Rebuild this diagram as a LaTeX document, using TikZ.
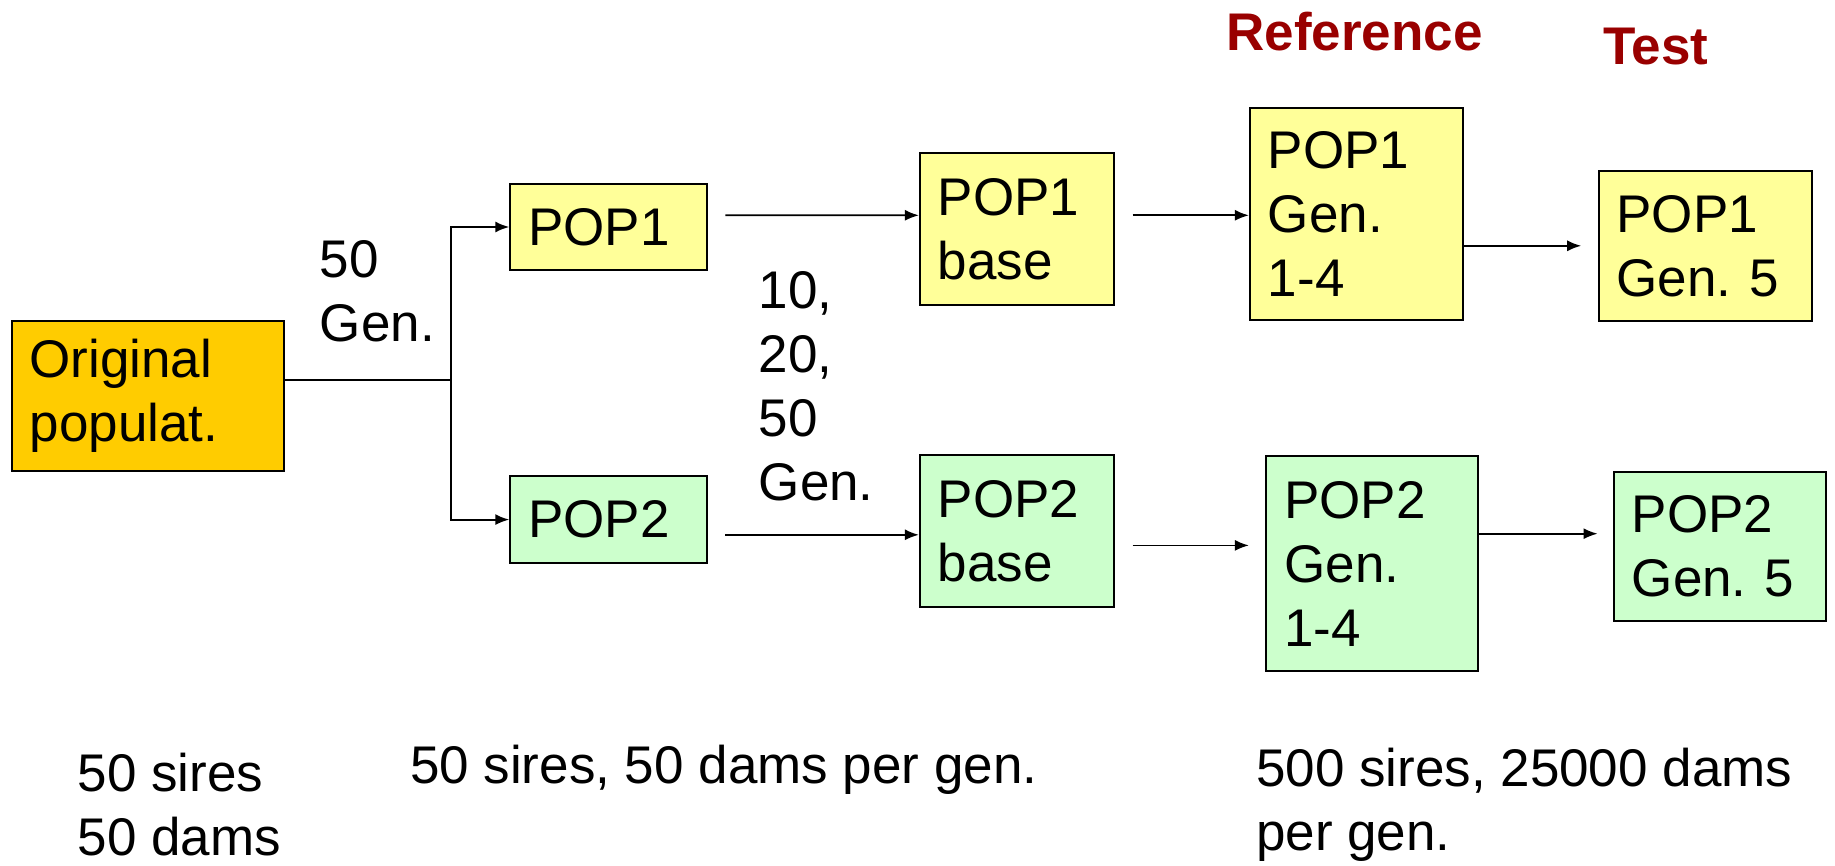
\documentclass[tikz,border=0pt]{standalone}
\usepackage{fontspec}
\setmainfont{Liberation Sans}
\usepackage{xcolor}
\usetikzlibrary{arrows.meta,positioning,calc}
\definecolor{lemon}{RGB}{255,255,153}
\definecolor{mint}{RGB}{204,255,204}
\definecolor{amber}{RGB}{255,204,0}
\definecolor{maroon}{RGB}{153,0,0}
\frenchspacing

\begin{document}
\begin{tikzpicture}[x=0.5pt, y=-0.5pt,
  txt/.style={font=\fontsize{26.5}{32}\selectfont, inner sep=0pt, align=left, anchor=west},
  box/.style 2 args={draw, line width=1pt, font=\fontsize{26.5}{32}\selectfont, align=left,
    inner xsep=9pt, inner ysep=3pt, text width=#1, minimum height=#2},
  arr/.style={-{Latex[length=7pt,width=5.5pt]}, line width=0.9pt}]
\useasboundingbox (0,0) rectangle (1835,866);

% Boxes
\node[box={118.4pt}{74.9pt}, fill=amber] (orig) at (148,395.6) {Original\\populat.};
\node[box={80.3pt}{43.3pt}, fill=lemon] (pop1) at (608.6,227) {POP1};
\node[box={80.3pt}{43.3pt}, fill=mint] (pop2) at (608.6,519.6) {POP2};
\node[box={79.1pt}{76pt}, fill=lemon] (base1) at (1017,229.4) {POP1\\base};
\node[box={79.1pt}{76pt}, fill=mint] (base2) at (1017,531.3) {POP2\\base};
\node[box={88.5pt}{105.9pt}, fill=lemon] (gen1) at (1356.4,213.6) {POP1\\Gen.\\1-4};
\node[box={87.9pt}{107.1pt}, fill=mint] (gen2) at (1372.2,563.5) {POP2\\Gen.\\1-4};
\node[box={88.5pt}{74.9pt}, fill=lemon] (test1) at (1705.1,245.8) {POP1\\Gen.~5};
\node[box={88pt}{74.9pt}, fill=mint] (test2) at (1719.8,546.5) {POP2\\Gen.~5};

% Split into two lines
\coordinate (split) at (450.6,380.3);
\draw[line width=0.9pt] (orig.east |- split) -- (split);
\draw[arr] (split) |- (pop1.west);
\draw[arr] (split) |- (pop2.west);

% Generations
\draw[arr] ($(pop1.east)+(17.5,-11.7)$) -- ($(base1.west)+(0,-14.1)$);
\draw[arr] ($(base1.east)+(17.6,-14.1)$) -- ($(gen1.west)+(0,1.7)$);
\draw[arr] ($(gen1.east)+(0,32.2)$) -- ($(test1.west)+(-16.4,0)$);
\draw[arr] ($(pop2.east)+(17.5,15.2)$) -- ($(base2.west)+(0,3.5)$);
\draw[arr] ($(base2.east)+(17.6,14.1)$) -- ($(gen2.west)+(-16.4,-18.1)$);
\draw[arr] ($(gen2.east)+(0,-29.8)$) -- ($(test2.west)+(-15.2,-12.8)$);

% Labels
\node[txt] (gen50) at (319.5,291) {50\\Gen.};
\node[txt] (genmix) at (758.4,386) {10,\\20,\\50\\Gen.};
\node[txt, font=\fontsize{26.5}{32}\selectfont\bfseries, text=maroon, anchor=center] (ref) at (1354.6,31.6) {Reference};
\node[txt, font=\fontsize{26.5}{32}\selectfont\bfseries, text=maroon, anchor=center] (test) at (1656,46.8) {Test};

% Population sizes
\node[txt] (size0) at (77.2,804.5) {50 sires\\50 dams};
\node[txt] (size1) at (409.6,770) {50 sires, 50 dams per gen.};
\node[txt] (size2) at (1255.7,804.5) {500 sires, 25000 dams\\per gen.};
\end{tikzpicture}
\end{document}
